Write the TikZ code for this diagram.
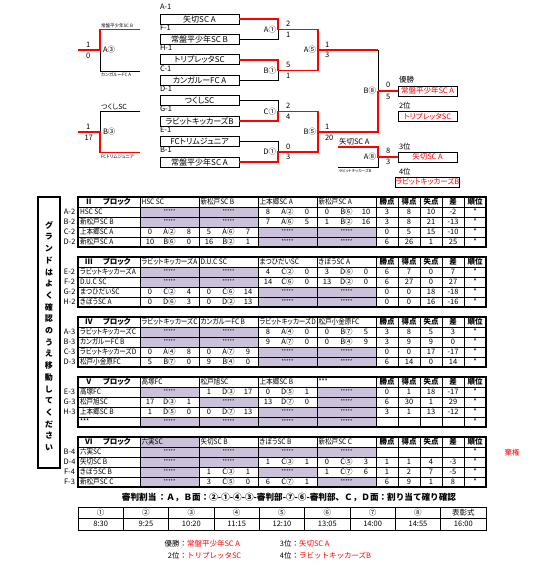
\documentclass[tikz,border=0pt]{standalone}
\usepackage{fontspec}
\setmainfont{Noto Sans CJK JP}[RawFeature=+palt]
\newfontfamily\cnd{Noto Sans CJK JP}[RawFeature=+palt,FakeStretch=0.88]
\newfontfamily\fwf{Noto Sans CJK JP}
\definecolor{gcol}{RGB}{204,193,219}
\definecolor{rd}{RGB}{255,0,0}
\newcommand\TT{0}
\newcommand\TN{t}
\tikzset{
  every node/.style={inner sep=0pt,outer sep=0pt},
  txt/.style={font=\fontsize{7.5}{8}\selectfont},
  nm/.style={font=\cnd\fontsize{7.5}{8}\selectfont},
  hb/.style={font=\bfseries\fontsize{7.5}{8}\selectfont},
  star/.style={font=\fontsize{5}{6}\selectfont},
  mbox/.style={draw,line width=0.8pt,minimum width=79pt,minimum height=10pt,font=\fontsize{8}{9}\selectfont},
  rbox/.style={draw,line width=0.8pt,minimum width=59pt,minimum height=10pt,font=\fontsize{7.5}{9}\selectfont,text=rd},
  lbl/.style={font=\fontsize{7.5}{9}\selectfont,anchor=west},
  sml/.style={font=\fontsize{4.5}{5}\selectfont},
  res/.style={font=\fwf\fontsize{7.5}{9}\selectfont},
  rl/.style={draw=rd,line width=1.7pt},
  bl/.style={draw=black,line width=0.8pt},
  grid/.style={draw=black,line width=0.5pt},
  frame/.style={draw=black,line width=1.6pt}
}
\newcommand\gc[2]{%
  \fill[gcol] ({140+59*(#2-1)},{\TT+10*#1}) rectangle ++(59,10);
  \node[star] (\TN r#1c#2) at ({140+59*(#2-0.5)},{\TT+10*#1+5}) {*****};}
\newcommand\mc[5]{%
  \node[txt] (\TN r#1c#2) at ({140+59*(#2-0.5)},{\TT+10*#1+5}) {#4};
  \node[txt] (\TN r#1c#2a) at ({140+59*(#2-1)+10},{\TT+10*#1+5}) {#3};
  \node[txt] (\TN r#1c#2b) at ({140+59*#2-10},{\TT+10*#1+5}) {#5};}
\newcommand\st[6]{%
  \node[txt] (\TN r#1s1) at (387,{\TT+10*#1+5}) {#2};
  \node[txt] (\TN r#1s2) at (409,{\TT+10*#1+5}) {#3};
  \node[txt] (\TN r#1s3) at (431,{\TT+10*#1+5}) {#4};
  \node[txt] (\TN r#1s4) at (453,{\TT+10*#1+5}) {#5};
  \node[txt] (\TN r#1s5) at (475,{\TT+10*#1+5}) {#6};}
\newcommand\rw[3]{%
  \node[txt] (\TN r#1l) at (69.5,{\TT+10*#1+5}) {#2};
  \node[nm,anchor=west] (\TN r#1n) at (80,{\TT+10*#1+5}) {#3};}
\newcommand\hd[5]{%
  \node[hb,anchor=west] (\TN h0) at (85,{\TT+5}) {#1\hspace{1.4em}ブロック};
  \node[nm,anchor=west] (\TN h1) at (141.5,{\TT+5}) {#2};
  \node[nm,anchor=west] (\TN h2) at (200.5,{\TT+5}) {#3};
  \node[nm,anchor=west] (\TN h3) at (259.5,{\TT+5}) {#4};
  \node[nm,anchor=west] (\TN h4) at (318.5,{\TT+5}) {#5};
  \node[hb] (\TN hs1) at (387,{\TT+5}) {勝点};
  \node[hb] (\TN hs2) at (409,{\TT+5}) {得点};
  \node[hb] (\TN hs3) at (431,{\TT+5}) {失点};
  \node[hb] (\TN hs4) at (453,{\TT+5}) {差};
  \node[hb] (\TN hs5) at (475,{\TT+5}) {順位};}
\newcommand\tgrid{%
  \foreach \r in {1,...,4} \draw[grid] (78,{\TT+10*\r}) -- (486,{\TT+10*\r});
  \foreach \x in {140,199,258,317,376,398,420,442,464} \draw[grid] (\x,\TT) -- (\x,{\TT+50});
  \draw[frame] (78,\TT) rectangle (486,{\TT+50});}
\begin{document}
\begin{tikzpicture}[x=1pt,y=-1pt]
\fill[white] (0,0) rectangle (558,582);
\useasboundingbox (0,0) rectangle (558,582);

% ---------------- bracket: first-round boxes
\foreach \t/\l [count=\i] in {矢切SC A/A-1,常盤平少年SC B/F-1,トリプレッタSC/H-1,カンガルーFC A/C-1,つくしSC/D-1,ラビットキッカーズB/G-1,FCトリムジュニア/E-1,常盤平少年SC A/B-1}{
  \node[mbox] (m\i) at (199.5,{19+20.43*(\i-1)}) {\t};
  \node[lbl] (ml\i) at (160,{19+20.43*(\i-1)-12}) {\l};
}
% junctions
\coordinate (jA1) at (278,29.5);
\coordinate (jB1) at (278,70.5);
\coordinate (jC1) at (278,111.5);
\coordinate (jD1) at (278,152);
\coordinate (jA5) at (318,50);
\coordinate (jB5) at (318,132);
\coordinate (jB8) at (378,91);
\coordinate (jA8) at (378,157);
\coordinate (tA5) at (318,29.5);
\coordinate (bA5) at (318,70.5);
\coordinate (tB5) at (318,111.5);
\coordinate (bB5) at (318,152);
\coordinate (tB8) at (378,50);
\coordinate (bB8) at (378,132);

% black (losing) paths
\draw[bl] (m2.east) -| (jA1);
\draw[bl] (m4.east) -| (jB1);
\draw[bl] (m5.east) -| (jC1);
\draw[bl] (m7.east) -| (jD1);
\draw[bl] (tB8) -- (jB8);
% red (winning) paths
\draw[rl] (m1.east) -| (jA1) -- (tA5) -- (jA5);
\draw[rl] (m3.east) -| (jB1) -- (bA5) -- (jA5) -- (tB8);
\draw[rl] (m6.east) -| (jC1) -- (tB5) -- (jB5);
\draw[rl] (m8.east) -| (jD1) -- (bB5) -- (jB5) -- (bB8) -- (jB8);

% labels of matches
\node[lbl,anchor=east] (lA1) at (276,29.5) {A①};
\node[lbl,anchor=east] (lB1) at (276,70.5) {B①};
\node[lbl,anchor=east] (lC1) at (276,111.5) {C①};
\node[lbl,anchor=east] (lD1) at (276,152) {D①};
\node[lbl,anchor=east] (lA5) at (316,50) {A⑤};
\node[lbl,anchor=east] (lB5) at (316,132) {B⑤};
\node[lbl,anchor=east] (lB8) at (376,91) {B⑧};
\node[lbl,anchor=east] (lA8) at (376,157) {A⑧};
% scores
\foreach \x/\y/\s [count=\k] in {286/24/2,286/35/1,286/65/5,286/76/1,286/106/2,286/117/4,286/147/0,286/157/3,
  325/45/1,325/55/3,325/127/1,325/138/20,386/85/0,386/97/5,386/151/8,386/162/3}
  \node[lbl] (sc\k) at (\x,\y) {\s};

% result boxes
\node[rbox] (win) at (427.5,91) {常盤平少年SC A};
\node[rbox] (p2) at (427.5,116.5) {トリプレッタSC};
\node[rbox] (p3) at (427.5,157) {矢切SC A};
\node[rbox] (p4) at (427.5,182) {ラビットキッカーズB};
\node[lbl] (lwin) at (399,80) {優勝};
\node[lbl] (lp2) at (399,106) {2位};
\node[lbl] (lp3) at (399,146.5) {3位};
\node[lbl] (lp4) at (399,172) {4位};
\draw[rl] (jB8) -- (win.west);

% 3rd place match
\coordinate (a8t) at (338,147);
\coordinate (a8b) at (338,167);
\draw[bl] (a8b) -| (jA8);
\draw[rl] (a8t) -| (jA8) -- (p3.west);
\node[font=\fontsize{7.5}{9}\selectfont,anchor=south west] (a8n1) at (339,145.5) {矢切SC A};
\node[font=\fontsize{3.8}{4}\selectfont,anchor=north west] (a8n2) at (339,169.5) {ラビットキッカーズB};

% ---------------- left pre-matches
\coordinate (pA3) at (100,50);
\coordinate (pA3t) at (100,29.5);
\coordinate (pA3b) at (100,71);
\coordinate (pA3te) at (140,29.5);
\coordinate (pA3be) at (140,71);
\coordinate (pA3in) at (78,50);
\draw[bl] (pA3) -- (pA3b) -- (pA3be);
\draw[rl] (pA3in) -- (pA3) -- (pA3t) -- (pA3te);
\node[lbl] (lA3) at (103,50) {A③};
\node[lbl] (sA3a) at (86,44.5) {1};
\node[lbl] (sA3b) at (86,55.5) {0};
\node[sml,anchor=south west] (nA3a) at (101,27.5) {常盤平少年SC B};
\node[sml,anchor=north west] (nA3b) at (101,73) {カンガルーFC A};

\coordinate (pB3) at (100,132);
\coordinate (pB3t) at (100,111);
\coordinate (pB3b) at (100,152.5);
\coordinate (pB3te) at (140,111);
\coordinate (pB3be) at (140,152.5);
\coordinate (pB3in) at (78,132);
\draw[bl] (pB3te) -- (pB3t) -- (pB3);
\draw[rl] (pB3in) -- (pB3) -- (pB3b) -- (pB3be);
\node[lbl] (lB3) at (103,132) {B③};
\node[lbl] (sB3a) at (86,126.5) {1};
\node[lbl] (sB3b) at (84.5,137.5) {17};
\node[font=\fontsize{7}{8}\selectfont,anchor=south west] (nB3a) at (101,109.5) {つくしSC};
\node[sml,anchor=north west] (nB3b) at (101,155) {FCトリムジュニア};

% ---------------- vertical notice
\draw[line width=2pt] (38,197) rectangle (60,468);
\node[font=\bfseries\fontsize{8}{11.7}\selectfont,align=center] (notice) at (49,336)
  {グ\\ラ\\ン\\ド\\は\\よ\\く\\確\\認\\の\\う\\え\\移\\動\\し\\て\\く\\だ\\さ\\い};

% ---------------- block tables
% II
\renewcommand\TT{197}\renewcommand\TN{tb}
\gc{1}{1}\gc{1}{2}\gc{2}{1}\gc{2}{2}\gc{3}{3}\gc{3}{4}\gc{4}{3}\gc{4}{4}
\tgrid
\hd{Ⅱ}{HSC SC}{新松戸SC B}{上本郷SC A}{新松戸SC A}
\rw{1}{A-2}{HSC SC}\mc{1}{3}{8}{A②}{0}\mc{1}{4}{0}{B⑥}{10}\st{1}{3}{8}{10}{-2}{*}
\rw{2}{B-2}{新松戸SC B}\mc{2}{3}{7}{A⑥}{5}\mc{2}{4}{1}{B②}{16}\st{2}{3}{8}{21}{-13}{*}
\rw{3}{C-2}{上本郷SC A}\mc{3}{1}{0}{A②}{8}\mc{3}{2}{5}{A⑥}{7}\st{3}{0}{5}{15}{-10}{*}
\rw{4}{D-2}{新松戸SC A}\mc{4}{1}{10}{B⑥}{0}\mc{4}{2}{16}{B②}{1}\st{4}{6}{26}{1}{25}{*}

% III
\renewcommand\TT{257}\renewcommand\TN{tc}
\gc{1}{1}\gc{1}{2}\gc{2}{1}\gc{2}{2}\gc{3}{3}\gc{3}{4}\gc{4}{3}\gc{4}{4}
\tgrid
\hd{Ⅲ}{ラビットキッカーズA}{D.U.C SC}{まつひだいSC}{きぼうSC A}
\rw{1}{E-2}{ラビットキッカーズA}\mc{1}{3}{4}{C②}{0}\mc{1}{4}{3}{D⑥}{0}\st{1}{6}{7}{0}{7}{*}
\rw{2}{F-2}{D.U.C SC}\mc{2}{3}{14}{C⑥}{0}\mc{2}{4}{13}{D②}{0}\st{2}{6}{27}{0}{27}{*}
\rw{3}{G-2}{まつひだいSC}\mc{3}{1}{0}{C②}{4}\mc{3}{2}{0}{C⑥}{14}\st{3}{0}{0}{18}{-18}{*}
\rw{4}{H-2}{きぼうSC A}\mc{4}{1}{0}{D⑥}{3}\mc{4}{2}{0}{D②}{13}\st{4}{0}{0}{16}{-16}{*}

% IV
\renewcommand\TT{317}\renewcommand\TN{td}
\gc{1}{1}\gc{1}{2}\gc{2}{1}\gc{2}{2}\gc{3}{3}\gc{3}{4}\gc{4}{3}\gc{4}{4}
\tgrid
\hd{Ⅳ}{ラビットキッカーズC}{カンガルーFC B}{ラビットキッカーズD}{松戸小金原FC}
\rw{1}{A-3}{ラビットキッカーズC}\mc{1}{3}{8}{A④}{0}\mc{1}{4}{0}{B⑦}{5}\st{1}{3}{8}{5}{3}{*}
\rw{2}{B-3}{カンガルーFC B}\mc{2}{3}{9}{A⑦}{0}\mc{2}{4}{0}{B④}{9}\st{2}{3}{9}{9}{0}{*}
\rw{3}{C-3}{ラビットキッカーズD}\mc{3}{1}{0}{A④}{8}\mc{3}{2}{0}{A⑦}{9}\st{3}{0}{0}{17}{-17}{*}
\rw{4}{D-3}{松戸小金原FC}\mc{4}{1}{5}{B⑦}{0}\mc{4}{2}{9}{B④}{0}\st{4}{6}{14}{0}{14}{*}

% V
\renewcommand\TT{377}\renewcommand\TN{te}
\gc{1}{1}\gc{1}{4}\gc{2}{2}\gc{2}{4}\gc{3}{3}\gc{3}{4}\gc{4}{1}\gc{4}{2}\gc{4}{3}\gc{4}{4}
\tgrid
\hd{Ⅴ}{高塚FC}{松戸旭SC}{上本郷SC B}{***}
\rw{1}{E-3}{高塚FC}\mc{1}{2}{1}{D③}{17}\mc{1}{3}{0}{D⑤}{1}\st{1}{0}{1}{18}{-17}{*}
\rw{2}{G-3}{松戸旭SC}\mc{2}{1}{17}{D③}{1}\mc{2}{3}{13}{D⑦}{0}\st{2}{6}{30}{1}{29}{*}
\rw{3}{H-3}{上本郷SC B}\mc{3}{1}{1}{D⑤}{0}\mc{3}{2}{0}{D⑦}{13}\st{3}{3}{1}{13}{-12}{*}
\rw{4}{}{***}\st{4}{}{}{}{}{*}

% VI
\renewcommand\TT{437}\renewcommand\TN{tf}
\fill[gcol] (140,437) rectangle (199,447);
\gc{1}{1}\gc{1}{2}\gc{1}{3}\gc{1}{4}\gc{2}{1}\gc{2}{2}\gc{3}{1}\gc{3}{3}\gc{4}{1}\gc{4}{4}
\tgrid
\hd{Ⅵ}{六実SC}{矢切SC B}{きぼうSC B}{新松戸SC C}
\rw{1}{B-4}{六実SC}\st{1}{}{}{}{}{*}
\rw{2}{D-4}{矢切SC B}\mc{2}{3}{1}{C③}{1}\mc{2}{4}{0}{C⑤}{3}\st{2}{1}{1}{4}{-3}{*}
\rw{3}{F-4}{きぼうSC B}\mc{3}{2}{1}{C③}{1}\mc{3}{4}{1}{C⑦}{6}\st{3}{1}{2}{7}{-5}{*}
\rw{4}{F-3}{新松戸SC C}\mc{4}{2}{3}{C⑤}{0}\mc{4}{3}{6}{C⑦}{1}\st{4}{6}{9}{1}{8}{*}
\node[txt,text=rd] (kiken) at (512,453) {棄権};

% ---------------- referee line and schedule
\node[font=\fwf\bfseries\fontsize{8.6}{10}\selectfont] (referee) at (289,497) {審判割当\,：Ａ，Ｂ面：②-①-④-③-審判部-⑦-⑥-審判部、Ｃ，Ｄ面：割り当て確り確認};
\draw[grid] (78,507) rectangle (486,530);
\draw[grid] (78,518.5) -- (486,518.5);
\foreach \i in {1,...,8} \draw[grid] ({78+45.33*\i},507) -- ({78+45.33*\i},530);
\foreach \t [count=\i] in {①,②,③,④,⑤,⑥,⑦,⑧,表彰式}
  \node[txt] (sh\i) at ({78+45.33*(\i-0.5)},512.75) {\t};
\foreach \t [count=\i] in {8:30,9:25,10:20,11:15,12:10,13:05,14:00,14:55,16:00}
  \node[txt] (st\i) at ({78+45.33*(\i-0.5)},524.25) {\t};

% ---------------- final ranking
\node[res,anchor=east] (f1l) at (187,544) {優勝：};
\node[res,anchor=west,text=rd] (f1) at (187,544) {常盤平少年SC A};
\node[res,anchor=east] (f2l) at (187,556) {2位：};
\node[res,anchor=west,text=rd] (f2) at (187,556) {トリプレッタSC};
\node[res,anchor=east] (f3l) at (299,544) {3位：};
\node[res,anchor=west,text=rd] (f3) at (299,544) {矢切SC A};
\node[res,anchor=east] (f4l) at (299,556) {4位：};
\node[res,anchor=west,text=rd] (f4) at (299,556) {ラビットキッカーズB};
\end{tikzpicture}
\end{document}
